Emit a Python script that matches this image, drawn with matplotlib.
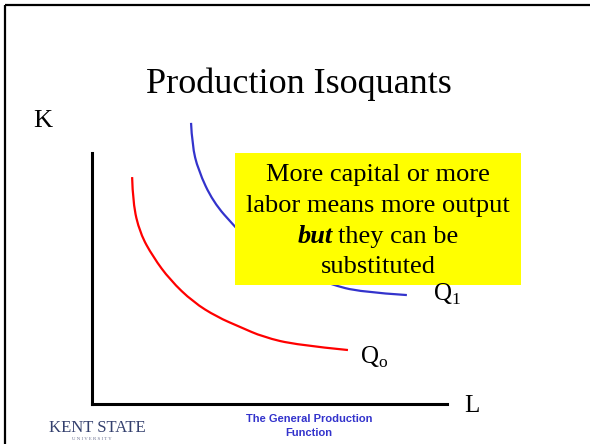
import matplotlib
matplotlib.use('Agg')
import matplotlib.pyplot as plt
from matplotlib.patches import Rectangle, PathPatch
from matplotlib.path import Path

plt.rcParams['font.family'] = ['Liberation Serif', 'DejaVu Serif']
plt.rcParams['mathtext.fontset'] = 'custom'
plt.rcParams['mathtext.rm'] = 'Liberation Serif'

# isoquant Q0 (red), in L / K units
q0_L = [1.13, 1.15, 1.35, 1.72, 2.20, 2.85, 3.52, 4.17, 4.82, 5.77, 7.21]
q0_K = [9.04, 8.01, 6.81, 5.86, 4.94, 4.06, 3.47, 3.07, 2.67, 2.35, 2.15]

# isoquant Q1 (blue), middle part hidden behind the yellow note
q1_L = [2.79, 2.82, 2.99, 3.41, 4.03, 4.59, 5.18, 5.86, 6.70, 7.55, 8.87]
q1_K = [11.20, 10.32, 9.32, 8.05, 7.05, 6.25, 5.66, 5.22, 4.78, 4.46, 4.34]

title = 'Production Isoquants'
note_lines = ['More capital or more', 'labor means more output', 'substituted']
footer = ['The General Production', 'Function']


def smooth_path(xs, ys):
    # quadratic b-spline style path using the read points as control points
    pts = list(zip(xs, ys))
    verts = [pts[0]]
    codes = [Path.MOVETO]
    for i in range(1, len(pts) - 2):
        mid = ((pts[i][0] + pts[i + 1][0]) / 2, (pts[i][1] + pts[i + 1][1]) / 2)
        verts += [pts[i], mid]
        codes += [Path.CURVE3, Path.CURVE3]
    verts += [pts[-2], pts[-1]]
    codes += [Path.CURVE3, Path.CURVE3]
    return Path(verts, codes)


W, H = 590, 444
fig = plt.figure(figsize=(W / 100, H / 100), dpi=100)
fig.patch.set_facecolor('white')

# the diagram itself
ax = fig.add_axes([92 / W, 40 / H, 355 / W, 251 / H])
ax.set_xlim(0, 10)
ax.set_ylim(0, 10)
ax.patch.set_alpha(0)
for s in ['top', 'right']:
    ax.spines[s].set_visible(False)
for s in ['left', 'bottom']:
    ax.spines[s].set_linewidth(2.2)
    ax.spines[s].set_color('black')
ax.set_xticks([])
ax.set_yticks([])
ax.add_patch(PathPatch(smooth_path(q0_L, q0_K), facecolor='none', edgecolor='#ff0000',
                       lw=1.6, clip_on=False, capstyle='butt'))
ax.add_patch(PathPatch(smooth_path(q1_L, q1_K), facecolor='none', edgecolor='#3333cc',
                       lw=1.6, clip_on=False, capstyle='butt'))

# overlay in pixel coords for slide decoration and text
ov = fig.add_axes([0, 0, 1, 1], zorder=5)
ov.set_xlim(0, W)
ov.set_ylim(H, 0)
ov.axis('off')
ov.patch.set_alpha(0)

# slide frame (top and left)
ov.plot([5, W], [5.5, 5.5], color='black', lw=1.6, solid_capstyle='butt')
ov.plot([5, 5], [5, H], color='black', lw=1.6, solid_capstyle='butt')

ov.text(299, 93, title, ha='center', va='baseline', fontsize=26)
ov.text(43, 127, 'K', ha='center', va='baseline', fontsize=19)
ov.text(464, 412, 'L', ha='left', va='baseline', fontsize=18)
ov.text(433, 301, r'Q$_1$', ha='left', va='baseline', fontsize=18)
ov.text(360, 364, r'Q$_\mathrm{o}$', ha='left', va='baseline', fontsize=18)

# yellow note
ov.add_patch(Rectangle((235, 153), 286, 132, facecolor='#ffff00', edgecolor='none'))
cx = 378
fs = 19
ov.text(cx, 181, note_lines[0], ha='center', va='baseline', fontsize=fs)
ov.text(cx, 212, note_lines[1], ha='center', va='baseline', fontsize=fs)
ov.text(cx, 273, note_lines[2], ha='center', va='baseline', fontsize=fs)

r = fig.canvas.get_renderer()
t1 = ov.text(0, 243, 'but', fontsize=fs, fontweight='bold', fontstyle='italic', va='baseline')
t2 = ov.text(0, 243, 'they can be', fontsize=fs, va='baseline')
w1 = t1.get_window_extent(r).width
w2 = t2.get_window_extent(r).width
gap = 6
left = cx - (w1 + gap + w2) / 2
t1.set_x(left)
t2.set_x(left + w1 + gap)

# footer
ov.text(309, 419, footer[0], ha='center', va='center', fontsize=8, fontweight='bold',
        color='#3333cc', family=['Liberation Sans', 'DejaVu Sans'])
ov.text(309, 433, footer[1], ha='center', va='center', fontsize=8, fontweight='bold',
        color='#3333cc', family=['Liberation Sans', 'DejaVu Sans'])

# university logo as text
ov.text(97, 432, 'KENT STATE', ha='center', va='baseline', fontsize=12, color='#34406e')
ov.text(92, 440, 'U N I V E R S I T Y', ha='center', va='baseline', fontsize=3.5, color='#6a7090')

fig.savefig('out.png', dpi=100)
